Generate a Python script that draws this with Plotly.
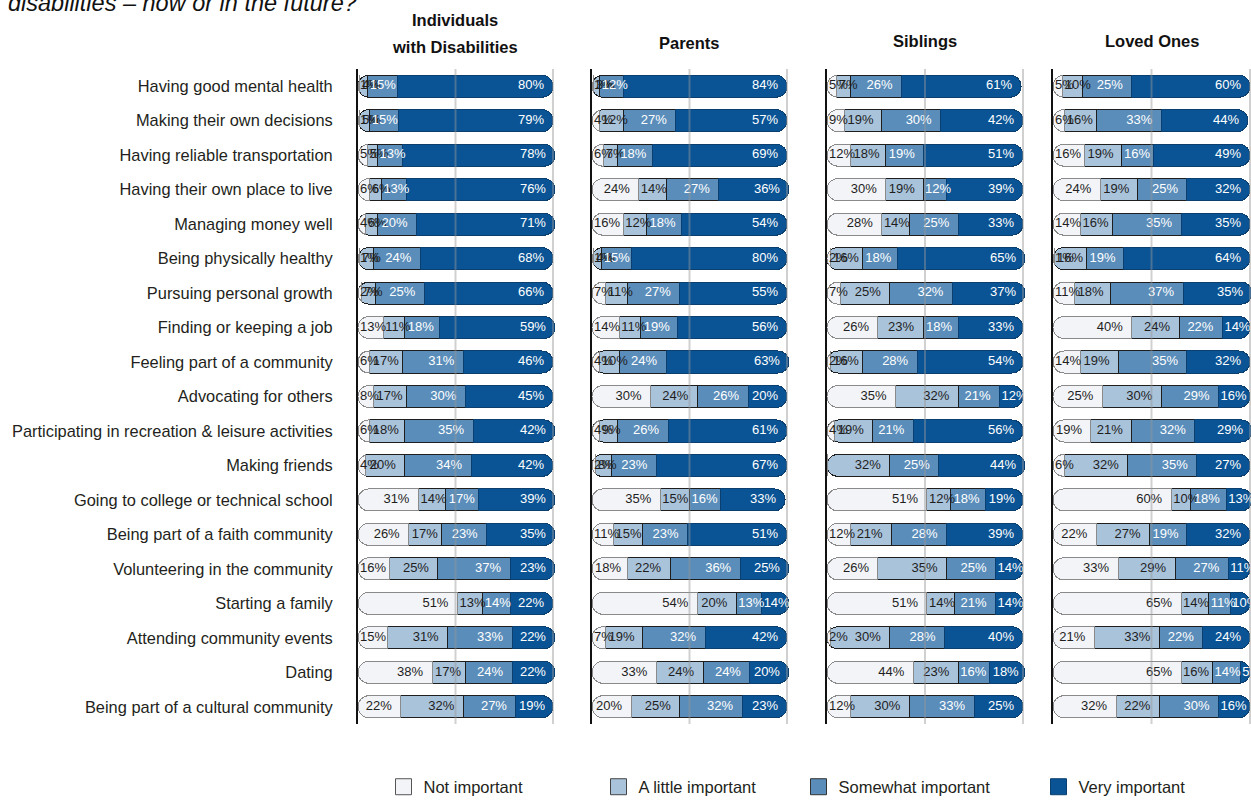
import plotly.graph_objects as go

categories = [
    "Having good mental health", "Making their own decisions", "Having reliable transportation",
    "Having their own place to live", "Managing money well", "Being physically healthy",
    "Pursuing personal growth", "Finding or keeping a job", "Feeling part of a community",
    "Advocating for others", "Participating in recreation & leisure activities", "Making friends",
    "Going to college or technical school", "Being part of a faith community",
    "Volunteering in the community", "Starting a family", "Attending community events",
    "Dating", "Being part of a cultural community",
]
group_titles = ["Individuals", "Parents", "Siblings", "Loved Ones"]
group_subtitles = ["with Disabilities", "", "", ""]
levels = ["Not important", "A little important", "Somewhat important", "Very important"]

ind_not = [1, 1, 5, 6, 4, 1, 2, 13, 6, 8, 6, 4, 31, 26, 16, 51, 15, 38, 22]
ind_little = [4, 5, 5, 6, 6, 7, 7, 11, 17, 17, 18, 20, 14, 17, 25, 13, 31, 17, 32]
ind_somewhat = [15, 15, 13, 13, 20, 24, 25, 18, 31, 30, 35, 34, 17, 23, 37, 14, 33, 24, 27]
ind_very = [80, 79, 78, 76, 71, 68, 66, 59, 46, 45, 42, 42, 39, 35, 23, 22, 22, 22, 19]

par_not = [1, 4, 6, 24, 16, 1, 7, 14, 4, 30, 4, 2, 35, 11, 18, 54, 7, 33, 20]
par_little = [3, 12, 7, 14, 12, 4, 11, 11, 10, 24, 9, 8, 15, 15, 22, 20, 19, 24, 25]
par_somewhat = [12, 27, 18, 27, 18, 15, 27, 19, 24, 26, 26, 23, 16, 23, 36, 13, 32, 24, 32]
par_very = [84, 57, 69, 36, 54, 80, 55, 56, 63, 20, 61, 67, 33, 51, 25, 14, 42, 20, 23]

sib_not = [5, 9, 12, 30, 28, 2, 7, 26, 2, 35, 4, 0, 51, 12, 26, 51, 2, 44, 12]
sib_little = [7, 19, 18, 19, 14, 16, 25, 23, 16, 32, 19, 32, 12, 21, 35, 14, 30, 23, 30]
sib_somewhat = [26, 30, 19, 12, 25, 18, 32, 18, 28, 21, 21, 25, 18, 28, 25, 21, 28, 16, 33]
sib_very = [61, 42, 51, 39, 33, 65, 37, 33, 54, 12, 56, 44, 19, 39, 14, 14, 40, 18, 25]

lov_not = [5, 6, 16, 24, 14, 1, 11, 40, 14, 25, 19, 6, 60, 22, 33, 65, 21, 65, 32]
lov_little = [10, 16, 19, 19, 16, 16, 18, 24, 19, 30, 21, 32, 10, 27, 29, 14, 33, 16, 22]
lov_somewhat = [25, 33, 16, 25, 35, 19, 37, 22, 35, 29, 32, 35, 18, 19, 27, 11, 22, 14, 30]
lov_very = [60, 44, 49, 32, 35, 64, 35, 14, 32, 16, 29, 27, 13, 32, 11, 10, 24, 5, 16]

panels = [
    (ind_not, ind_little, ind_somewhat, ind_very),
    (par_not, par_little, par_somewhat, par_very),
    (sib_not, sib_little, sib_somewhat, sib_very),
    (lov_not, lov_little, lov_somewhat, lov_very),
]

# ---------------- styling ----------------
W, H = 1251, 800
colors = ["#f2f4f7", "#a9c3db", "#5a8dba", "#0a5495"]
outline = ["#8a8a8a", "#1e1e1e", "#1e1e1e", "#0a3f70"]
legend_outline = ["#555555", "#444444", "#333333", "#0a3f70"]
text_colors = ["#1e1e1e", "#1e1e1e", "#ffffff", "#ffffff"]
SANS = "Liberation Sans, Arial, sans-serif"
TRANSP = "rgba(0,0,0,0)"
LABEL_FS = 13
px_domains = [(358, 553), (592, 787), (827, 1023), (1053, 1250)]  # pixel of 0% and 100%
MT, MB = 69, 76
plot_h = H - MT - MB


def py(pixel_y):
    return (H - MB - pixel_y) / plot_h


fig = go.Figure()
legend_names = ["legend", "legend2", "legend3", "legend4"]
axis_info = []

for k, vals in enumerate(panels):
    n_, l_, s_, v_ = vals
    tot = [a + b + c + d for a, b, c, d in zip(n_, l_, s_, v_)]
    x0, x1 = px_domains[k]
    pxu = (x1 - x0) / 100.0
    dom_end = min(x0 + 1.015 * (x1 - x0), W)
    xmax = (dom_end - x0) / pxu
    axis_info.append((x0 / W, dom_end / W, xmax))

    xm = "x" if k == 0 else f"x{k + 1}"
    yk = "y" if k == 0 else f"y{k + 1}"
    xo = f"x{k + 5}"

    # Layer A (reversed axis, drawn below): segments N, L, S with rounded left end
    spacer = [xmax - t for t in tot]
    layerA = [(spacer, None), (v_, None), (s_, 2), (l_, 1), (n_, 0)]
    for arr, lvl in layerA:
        if lvl is not None:
            fig.add_trace(go.Bar(
                y=categories, x=arr, orientation="h", xaxis=xm, yaxis=yk,
                name=levels[lvl], showlegend=False,
                marker=dict(color=colors[lvl], line=dict(color=outline[lvl], width=1)),
                hoverinfo="skip", cliponaxis=False,
            ))
        else:
            fig.add_trace(go.Bar(
                y=categories, x=arr, orientation="h", xaxis=xm, yaxis=yk,
                showlegend=False, marker=dict(color=TRANSP, line=dict(width=0)),
                hoverinfo="skip", cliponaxis=False,
            ))

    # Layer B (normal axis, drawn on top): the "Very important" segment with rounded right end
    for lvl, arr in enumerate([n_, l_, s_, v_]):
        is_v = lvl == 3
        fig.add_trace(go.Bar(
            y=categories, x=arr, orientation="h", xaxis=xo, yaxis=yk,
            name=levels[lvl], showlegend=False,
            marker=dict(color=colors[lvl] if is_v else TRANSP,
                        line=dict(color=outline[lvl] if is_v else TRANSP, width=1 if is_v else 0)),
            hoverinfo="skip", cliponaxis=False,
        ))

    # value labels: right-aligned inside a segment when they fit, else start at the segment's left
    lx, ly, lt, lp, lc = [], [], [], [], []
    for i, cat in enumerate(categories):
        start = 0
        for lvl, arr in enumerate(vals):
            v = arr[i]
            end = start + v
            if v > 0:
                w = (len(str(v)) * 0.556 + 0.889) * LABEL_FS
                room = v * pxu - w
                if room >= 6:
                    lx.append(end - min(9, room - 3) / pxu)
                    lp.append("middle left")
                else:
                    lx.append(start + 2 / pxu)
                    lp.append("middle right")
                ly.append(cat)
                lt.append(f"{v}%")
                lc.append(text_colors[lvl])
            start = end
    fig.add_trace(go.Scatter(
        x=lx, y=ly, text=lt, mode="text", textposition=lp, xaxis=xo, yaxis=yk,
        textfont=dict(family=SANS, size=LABEL_FS, color=lc),
        showlegend=False, hoverinfo="skip",
    ))

# legend entries (square swatches)
for lvl in range(4):
    fig.add_trace(go.Scatter(
        x=[None], y=[None], mode="markers", xaxis="x5", yaxis="y",
        name=levels[lvl], legend=legend_names[lvl], showlegend=True,
        marker=dict(symbol="square", size=16, color=colors[lvl],
                    line=dict(color=legend_outline[lvl], width=1)),
        hoverinfo="skip",
    ))

layout = dict(
    width=W, height=H,
    margin=dict(l=0, r=0, t=MT, b=MB, autoexpand=False),
    plot_bgcolor="white", paper_bgcolor="white",
    barmode="stack", bargap=0.36, barcornerradius="50%",
    font=dict(family=SANS, color="#231f20"),
)

for k in range(4):
    d0, d1, xmax = axis_info[k]
    main_key = "xaxis" if k == 0 else f"xaxis{k + 1}"
    over_key = f"xaxis{k + 5}"
    y_key = "yaxis" if k == 0 else f"yaxis{k + 1}"
    xm = "x" if k == 0 else f"x{k + 1}"
    yk = "y" if k == 0 else f"y{k + 1}"
    layout[main_key] = dict(domain=[d0, d1], range=[xmax, 0], anchor=yk, visible=False)
    layout[over_key] = dict(range=[0, xmax], overlaying=xm, anchor=yk, visible=False)
    layout[y_key] = dict(
        domain=[0, 1], anchor=xm, type="category", categoryorder="array",
        categoryarray=categories, range=[len(categories) - 0.5, -0.5],
        showline=True, linecolor="#111111", linewidth=2, layer="above traces",
        showgrid=False, zeroline=False, automargin=False,
        ticks="outside" if k == 0 else "", ticklen=20, tickcolor=TRANSP,
        showticklabels=(k == 0),
        tickfont=dict(family=SANS, size=16.4, color="#231f20"),
    )

# legends (one per level, placed individually)
legend_px = [405.5, 620.5, 820.5, 1060.5]
for i, name in enumerate(legend_names):
    layout[name] = dict(
        x=(legend_px[i] - 22) / W, y=1 - 787 / H, xref="container", yref="container",
        xanchor="left", yanchor="middle", orientation="h", bgcolor=TRANSP,
        font=dict(family=SANS, size=16.5, color="#231f20"),
    )

fig.update_layout(**layout)

# gridlines drawn above bars
shapes = []
for k in range(4):
    xo = f"x{k + 5}"
    for gx in (50, 100):
        shapes.append(dict(type="line", xref=xo, yref="paper", x0=gx, x1=gx, y0=0, y1=1,
                           line=dict(color="rgba(150,150,150,0.45)", width=2), layer="above"))
fig.update_layout(shapes=shapes)

# panel titles
title_px_y = [(20, 47), (43, None), (41, None), (41, None)]
for k in range(4):
    x0, x1 = px_domains[k]
    cx = (x0 + x1) / 2 / W
    ya, yb = title_px_y[k]
    fig.add_annotation(x=cx, y=py(ya), xref="paper", yref="paper", showarrow=False,
                       text=f"<b>{group_titles[k]}</b>", xanchor="center", yanchor="middle",
                       font=dict(family=SANS, size=16.5, color="#111111"))
    if group_subtitles[k]:
        fig.add_annotation(x=cx, y=py(yb), xref="paper", yref="paper", showarrow=False,
                           text=f"<b>{group_subtitles[k]}</b>", xanchor="center", yanchor="middle",
                           font=dict(family=SANS, size=16.5, color="#111111"))

# cut-off chart title (only its last line is visible)
fig.add_annotation(x=6 / W, y=py(3), xref="paper", yref="paper", showarrow=False,
                   text="<i>disabilities – now or in the future?</i>", xanchor="left", yanchor="middle",
                   font=dict(family=SANS, size=23.5, color="#111111"))

fig.write_html("out.html")
